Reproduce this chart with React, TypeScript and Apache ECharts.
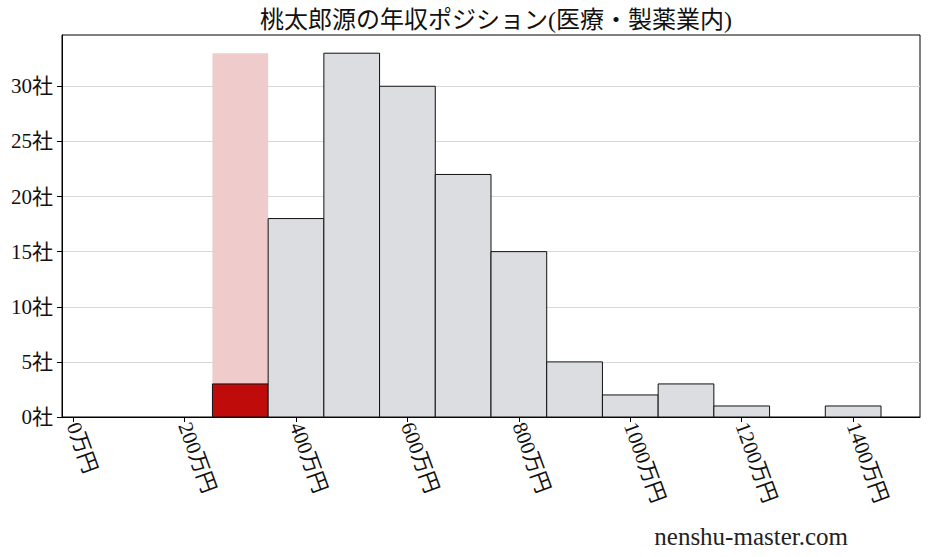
import React, { useEffect, useRef } from "react";
import * as echarts from "echarts";

// 年収の階級（万円）: 各階級の下限と件数
const binStarts = [250, 350, 450, 550, 650, 750, 850, 950, 1050, 1150, 1250, 1350];
const binWidth = 100;
const counts = [3, 18, 33, 30, 22, 15, 5, 2, 3, 1, 0, 1];
const highlightIndex = 0; // 桃太郎源の位置
const xTicks = [0, 200, 400, 600, 800, 1000, 1200, 1400];
const yTicks = [0, 5, 10, 15, 20, 25, 30];

const FONT = "'Liberation Serif', 'Noto Sans CJK JP', serif";

const App = () => {
  const chartRef = useRef<HTMLDivElement>(null);

  useEffect(() => {
    const chart = echarts.init(chartRef.current, null, { renderer: "svg" });
    const maxCount = Math.max(...counts);

    const barData = binStarts.map((s, i) => [s, s + binWidth, counts[i], i === highlightIndex ? 1 : 0]);
    const bandData = [[binStarts[highlightIndex], binStarts[highlightIndex] + binWidth, maxCount, 0]];

    // 階級の矩形をスケール経由で描く
    const renderRect = (fill: string, stroke: string | null) => (params: any, api: any) => {
      if (api.value(2) <= 0) return null;
      const p0 = api.coord([api.value(0), 0]);
      const p1 = api.coord([api.value(1), api.value(2)]);
      const hl = api.value(3) === 1;
      return {
        type: "rect",
        shape: { x: p0[0], y: p1[1], width: p1[0] - p0[0], height: p0[1] - p1[1] },
        style: {
          fill: hl ? "#c00b0b" : fill,
          stroke: stroke,
          lineWidth: stroke ? 1 : 0,
        },
      };
    };

    chart.setOption({
      animation: false,
      title: {
        text: "桃太郎源の年収ポジション(医療・製薬業内)",
        left: 491,
        textAlign: "center",
        top: 3,
        textStyle: { fontFamily: FONT, fontSize: 24, fontWeight: "normal", color: "#111" },
      },
      graphic: [
        {
          type: "text",
          right: 80,
          bottom: 8,
          style: { text: "nenshu-master.com", fontFamily: FONT, fontSize: 25, fill: "#222" },
        },
      ],
      grid: { left: 62, right: 8, top: 35, bottom: 140, show: true, borderColor: "#000", borderWidth: 1 },
      xAxis: {
        type: "value",
        min: -20,
        max: 1520,
        interval: 200,
        splitLine: { show: false },
        axisLine: { lineStyle: { color: "#000" } },
        axisTick: { show: true, length: 5, lineStyle: { color: "#000" }, customValues: xTicks },
        axisLabel: {
          customValues: xTicks,
          rotate: -70,
          fontFamily: FONT,
          fontSize: 21,
          color: "#111",
          margin: 6,
          formatter: (v: number) => `${v}万円`,
        },
      },
      yAxis: {
        type: "value",
        min: 0,
        max: 34.65,
        splitLine: { show: true, lineStyle: { color: "#d8d8d8", width: 1 } },
        axisLine: { show: true, onZero: false, lineStyle: { color: "#000" } },
        axisTick: { show: true, length: 5, lineStyle: { color: "#000" }, customValues: yTicks },
        axisLabel: {
          customValues: yTicks,
          fontFamily: FONT,
          fontSize: 21,
          color: "#111",
          margin: 9,
          formatter: (v: number) => `${v}社`,
        },
      },
      series: [
        {
          type: "custom",
          renderItem: renderRect("#f0cbcb", null),
          data: bandData,
          encode: { x: [0, 1], y: 2 },
          z: 1,
          silent: true,
        },
        {
          type: "custom",
          renderItem: renderRect("#dcdde0", "#111"),
          data: barData,
          encode: { x: [0, 1], y: 2 },
          z: 3,
        },
      ],
    });

    return () => chart.dispose();
  }, []);

  return (
    <div
      ref={chartRef}
      style={{ position: "fixed", left: 0, top: 0, width: "928px", height: "557px", background: "#fff" }}
    />
  );
};

export default App;
